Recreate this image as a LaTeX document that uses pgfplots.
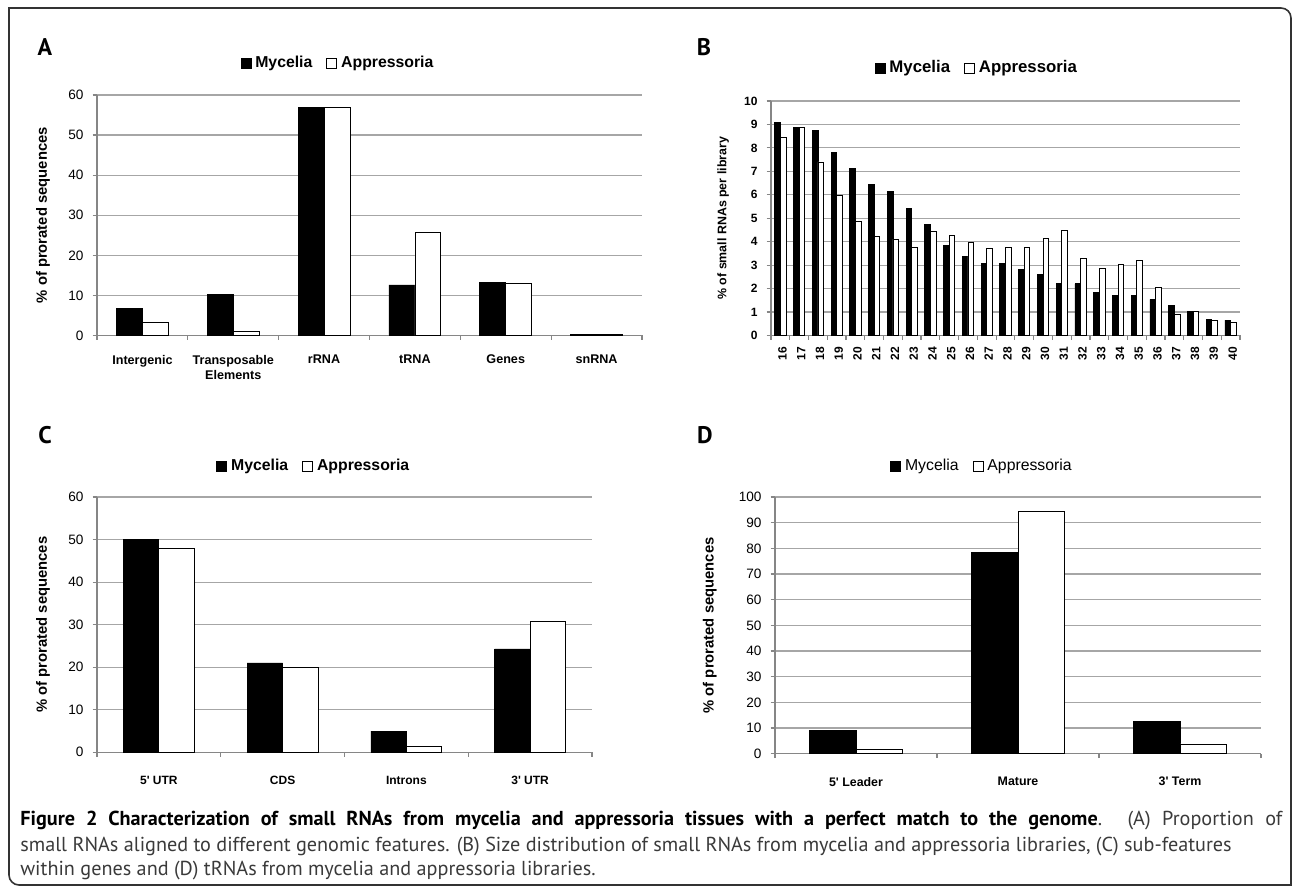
\documentclass[border=0pt]{standalone}
\usepackage{fontspec}
\setmainfont{Liberation Sans}
\newfontfamily\capfont{PT Sans}
\usepackage{pgfplots}
\pgfplotsset{compat=1.18}
\definecolor{gridgray}{HTML}{A6A6A6}
\definecolor{axisgray}{HTML}{868686}
\definecolor{captext}{HTML}{3A3A3A}
\pgfplotsset{
 ex/.style={
  scale only axis, ybar,
  axis x line=bottom, axis y line=left,
  axis line style={-, draw=axisgray, line width=0.6pt},
  ymajorgrids, grid style={draw=gridgray, line width=0.6pt},
  ymin=0,
  tick align=outside,
  major tick length=2.2pt,
  major y tick style={draw=axisgray, line width=0.6pt},
  major x tick style={draw=none},
  extra x tick style={major x tick style={draw=axisgray, line width=0.6pt}, major tick length=2.2pt},
  /pgf/number format/assume math mode=true,
  legend columns=2,
  legend image code/.code={\draw[#1, line width=0.4pt] (0pt,-2.5pt) rectangle (5pt,2.5pt);},
  legend style={draw=none, fill=none, anchor=center, inner sep=0pt,
    /tikz/every even column/.append style={column sep=5pt}},
  clip=false,
 },
 mbar/.style={fill=black, draw=black, line width=0.4pt},
 abar/.style={fill=white, draw=black, line width=0.4pt},
}
\begin{document}
\begin{tikzpicture}
\path[use as bounding box] (0,0) rectangle (646pt,444pt);
\draw[line width=0.8pt, draw=black!80] (4.5pt,440pt) -- (640.5pt,440pt) arc[start angle=90,end angle=0,radius=5pt] -- (645.5pt,1.5pt) -- (9.5pt,1.5pt) arc[start angle=270,end angle=180,radius=5pt] -- cycle;

% Panel letters
\node[font=\capfont\bfseries\fontsize{12}{14}\selectfont] at (22.5pt,420.5pt) {A};
\node[font=\capfont\bfseries\fontsize{12}{14}\selectfont] at (352pt,420.5pt) {B};
\node[font=\capfont\bfseries\fontsize{12}{14}\selectfont] at (22.5pt,226.5pt) {C};
\node[font=\capfont\bfseries\fontsize{12}{14}\selectfont] at (352.5pt,226.5pt) {D};

% Panel A
\begin{axis}[ex, at={(48.5pt,276.25pt)}, anchor=south west, width=272.5pt, height=120.25pt,
 xmin=-0.5, xmax=5.5, ymax=60, ytick={0,10,...,60},
 bar width=0.286,
 xtick={0,...,5}, xticklabels={Intergenic,{Transposable\\Elements},rRNA,tRNA,Genes,snRNA},
 extra x ticks={-0.5,0.5,1.5,2.5,3.5,4.5,5.5}, extra x tick labels={},
 xticklabel style={font=\bfseries\fontsize{6.3}{7.5}\selectfont, align=center, anchor=north, yshift=-4pt},
 yticklabel style={font=\fontsize{6.8}{7}\selectfont, xshift=-1pt},
 ylabel={\% of prorated sequences},
 ylabel style={font=\bfseries\fontsize{7.4}{8}\selectfont, at={(axis description cs:-0.099,0.5)}, anchor=center},
 legend style={at={(axis description cs:0.444,1.133)}, font=\bfseries\fontsize{7.9}{9}\selectfont},
]
\addplot[mbar, bar shift=-0.143] coordinates {(0,6.7) (1,10.2) (2,56.9) (3,12.6) (4,13.2) (5,0.3)};
\addlegendentry{Mycelia}
\addplot[abar, bar shift=0.143] coordinates {(0,3.3) (1,1.0) (2,56.9) (3,25.7) (4,13.0) (5,0.3)};
\addlegendentry{Appressoria}
\end{axis}

% Panel B
\begin{axis}[ex, at={(385.5pt,276.25pt)}, anchor=south west, width=234.5pt, height=117.25pt,
 xmin=-0.5, xmax=24.5, ymax=10, ytick={0,1,...,10},
 bar width=0.3,
 xtick={0,...,24},
 xticklabels={16,17,18,19,20,21,22,23,24,25,26,27,28,29,30,31,32,33,34,35,36,37,38,39,40},
 extra x ticks={-0.5,0.5,...,24.5}, extra x tick labels={},
 xticklabel style={font=\bfseries\fontsize{6}{7}\selectfont, rotate=90, anchor=east, yshift=-1pt},
 yticklabel style={font=\bfseries\fontsize{6}{7}\selectfont, xshift=-1pt},
 ylabel={\% of small RNAs per library},
 ylabel style={font=\bfseries\fontsize{6.2}{7}\selectfont, at={(axis description cs:-0.102,0.5)}, anchor=center},
 legend style={at={(axis description cs:0.441,1.141)}, font=\bfseries\fontsize{8.4}{9}\selectfont},
]
\addplot[mbar, bar shift=-0.15] coordinates {(0,9.07) (1,8.89) (2,8.73) (3,7.81) (4,7.14) (5,6.43) (6,6.15) (7,5.43) (8,4.72) (9,3.84) (10,3.36) (11,3.09) (12,3.06) (13,2.82) (14,2.59) (15,2.23) (16,2.20) (17,1.85) (18,1.69) (19,1.69) (20,1.54) (21,1.27) (22,1.01) (23,0.69) (24,0.66)};
\addlegendentry{Mycelia}
\addplot[abar, bar shift=0.15] coordinates {(0,8.45) (1,8.88) (2,7.40) (3,5.97) (4,4.88) (5,4.24) (6,4.11) (7,3.76) (8,4.45) (9,4.28) (10,3.95) (11,3.71) (12,3.77) (13,3.77) (14,4.15) (15,4.49) (16,3.27) (17,2.87) (18,3.03) (19,3.20) (20,2.05) (21,0.90) (22,1.04) (23,0.65) (24,0.55)};
\addlegendentry{Appressoria}
\end{axis}

% Panel C
\begin{axis}[ex, at={(48.5pt,67.85pt)}, anchor=south west, width=247.5pt, height=127.65pt,
 xmin=-0.5, xmax=3.5, ymax=60, ytick={0,10,...,60},
 bar width=0.286,
 xtick={0,...,3}, xticklabels={5\textquotesingle{} UTR,CDS,Introns,3\textquotesingle{} UTR},
 extra x ticks={-0.5,0.5,1.5,2.5,3.5}, extra x tick labels={},
 xticklabel style={font=\bfseries\fontsize{6}{7}\selectfont, anchor=north, yshift=-6pt},
 yticklabel style={font=\fontsize{6.8}{7}\selectfont, xshift=-1pt},
 ylabel={\% of prorated sequences},
 ylabel style={font=\bfseries\fontsize{7.4}{8}\selectfont, at={(axis description cs:-0.109,0.5)}, anchor=center},
 legend style={at={(axis description cs:0.440,1.121)}, font=\bfseries\fontsize{7.9}{9}\selectfont},
]
\addplot[mbar, bar shift=-0.143] coordinates {(0,50.0) (1,21.0) (2,5.0) (3,24.3)};
\addlegendentry{Mycelia}
\addplot[abar, bar shift=0.143] coordinates {(0,48.0) (1,19.9) (2,1.3) (3,30.7)};
\addlegendentry{Appressoria}
\end{axis}

% Panel D
\begin{axis}[ex, at={(387.5pt,67.15pt)}, anchor=south west, width=243pt, height=128.35pt,
 xmin=-0.5, xmax=2.5, ymax=100, ytick={0,10,...,100},
 bar width=0.286,
 xtick={0,...,2}, xticklabels={5\textquotesingle{} Leader,Mature,3\textquotesingle{} Term},
 extra x ticks={-0.5,0.5,1.5,2.5}, extra x tick labels={},
 xticklabel style={font=\bfseries\fontsize{6.2}{7}\selectfont, anchor=north, yshift=-6pt},
 yticklabel style={font=\fontsize{6.8}{7}\selectfont, xshift=-1pt},
 ylabel={\% of prorated sequences},
 ylabel style={font=\bfseries\fontsize{7.4}{8}\selectfont, at={(axis description cs:-0.134,0.5)}, anchor=center},
 legend style={at={(axis description cs:0.428,1.121)}, font=\fontsize{7.9}{9}\selectfont},
]
\addplot[mbar, bar shift=-0.143] coordinates {(0,9.2) (1,78.3) (2,12.6)};
\addlegendentry{Mycelia}
\addplot[abar, bar shift=0.143] coordinates {(0,1.7) (1,94.4) (2,3.8)};
\addlegendentry{Appressoria}
\end{axis}

% Caption
\node[anchor=west, inner sep=0pt, font=\capfont\fontsize{10.1}{12}\selectfont, text=captext] at (10pt,33.5pt)
 {\makebox[631pt][s]{\textbf{\textcolor{black}{Figure 2 Characterization of small RNAs from mycelia and appressoria tissues with a perfect match to the genome}}. (A) Proportion of}};
\node[anchor=west, inner sep=0pt, font=\capfont\fontsize{10.1}{12}\selectfont, text=captext] at (10pt,20.5pt)
 {small RNAs aligned to different genomic features. (B) Size distribution of small RNAs from mycelia and appressoria libraries, (C) sub-features};
\node[anchor=west, inner sep=0pt, font=\capfont\fontsize{10.1}{12}\selectfont, text=captext] at (10pt,8.5pt)
 {within genes and (D) tRNAs from mycelia and appressoria libraries.};
\end{tikzpicture}
\end{document}
